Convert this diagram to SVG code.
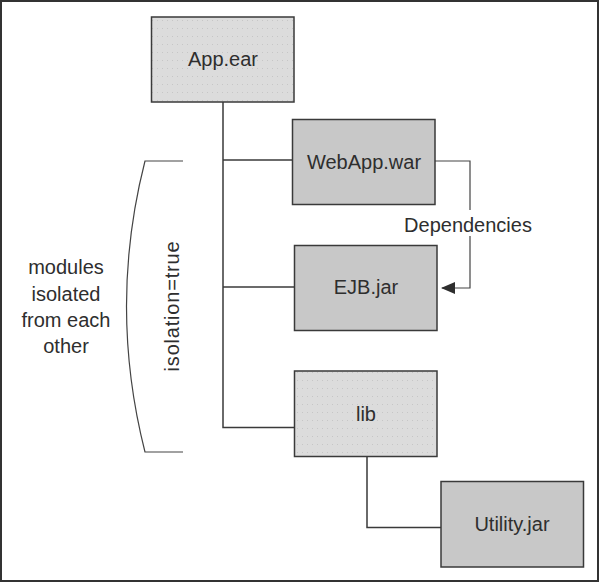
<svg xmlns="http://www.w3.org/2000/svg" width="600" height="583" viewBox="0 0 600 583">
<style>
.box{stroke:#3a3a3a;stroke-width:1.5}
.light{fill:url(#dots)}
.dark{fill:#c8c8c8}
.lbl{font-family:"Liberation Sans",Arial,sans-serif;font-size:20px;fill:#2e2e2e;text-anchor:middle}
.ln{fill:none;stroke:#3a3a3a;stroke-width:1.5}
.thin{fill:none;stroke:#444;stroke-width:1.2}
</style>
<defs>
<pattern id="dots" width="5" height="8" patternUnits="userSpaceOnUse">
<rect width="5" height="8" fill="#dcdcdc"/>
<rect x="2" y="4" width="1" height="1" fill="#c6c6c6"/>
</pattern>
<marker id="arr" markerWidth="14" markerHeight="12" refX="13" refY="6" orient="auto" markerUnits="userSpaceOnUse">
<path d="M0,0 L14,6 L0,12 Z" fill="#2e2e2e"/>
</marker>
</defs>
<rect x="1" y="1" width="597" height="580" fill="#ffffff" stroke="#333" stroke-width="2"/>
<g id="connectors">
<path class="ln" d="M223,102 V427.5 H295"/>
<path class="ln" d="M223,160 H292"/>
<path class="ln" d="M223,287 H294"/>
<path class="ln" d="M367,457 V527.5 H441"/>
<path class="thin" d="M435,161 H470 V210"/>
<path class="thin" d="M470,236 V288 H442" marker-end="url(#arr)"/>
<text class="lbl" x="468" y="232">Dependencies</text>
</g>
<g id="bracket">
<path class="thin" d="M183,161 H145 Q108,306 145,452 H183"/>
<text class="lbl" x="174" y="306" transform="rotate(-90 174 306)" dominant-baseline="middle" style="letter-spacing:0.8px">isolation=true</text>
</g>
<g id="note">
<text class="lbl" x="66" y="274">modules</text>
<text class="lbl" x="66" y="301">isolated</text>
<text class="lbl" x="66" y="327">from each</text>
<text class="lbl" x="66" y="353">other</text>
</g>
<g id="app-ear">
<rect class="box light" x="151.5" y="17" width="142.5" height="85"/>
<text class="lbl" x="223" y="66">App.ear</text>
</g>
<g id="webapp-war">
<rect class="box dark" x="292.5" y="119.5" width="142.5" height="85"/>
<text class="lbl" x="364" y="169">WebApp.war</text>
</g>
<g id="ejb-jar">
<rect class="box dark" x="294.5" y="245.5" width="142.5" height="85"/>
<text class="lbl" x="366" y="294">EJB.jar</text>
</g>
<g id="lib">
<rect class="box light" x="294.5" y="371" width="142.5" height="85.5"/>
<text class="lbl" x="366" y="421">lib</text>
</g>
<g id="utility-jar">
<rect class="box dark" x="441" y="481.5" width="142.5" height="85.5"/>
<text class="lbl" x="512" y="531">Utility.jar</text>
</g>
</svg>
